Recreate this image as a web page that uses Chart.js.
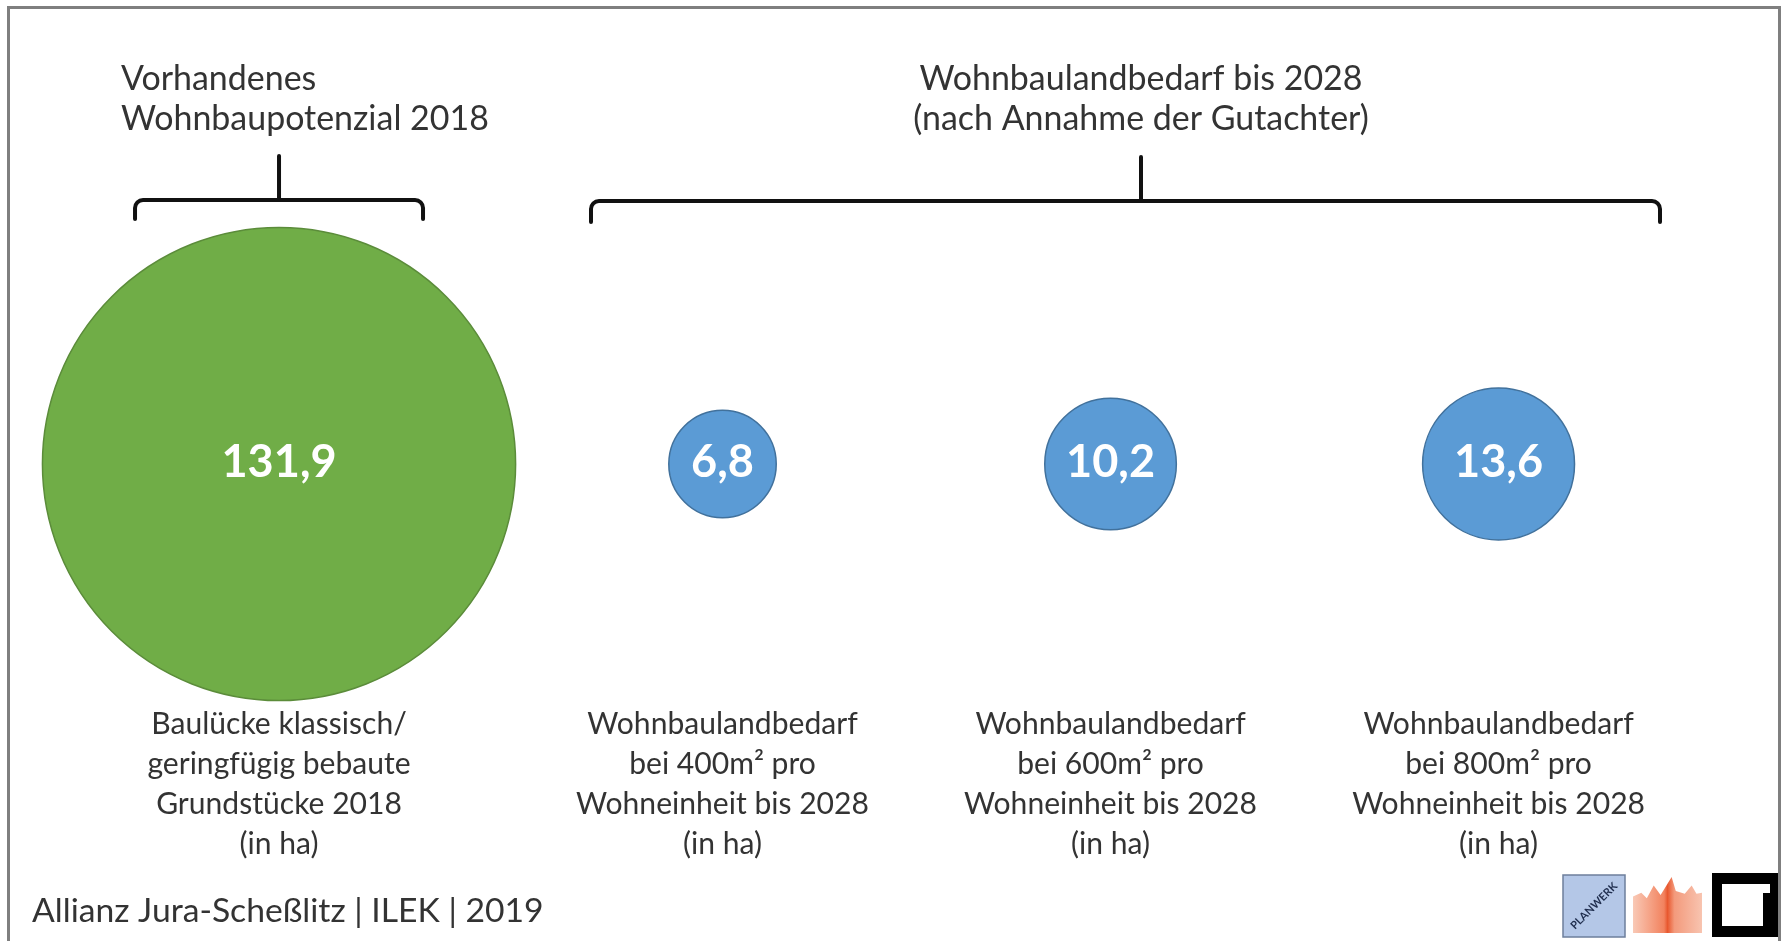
<!DOCTYPE html>
<html lang="de">
<head>
<meta charset="utf-8">
<title>Wohnbaupotenzial 2018 und Wohnbaulandbedarf bis 2028</title>
<script src="https://cdn.jsdelivr.net/npm/chart.js@4.4.1/dist/chart.umd.min.js"></script>
<style>
    html, body { margin: 0; padding: 0; background: #fff; }
    #wrap { width: 1783px; height: 941px; }
</style>
</head>
<body>
<div id="wrap"><canvas id="myChart" width="1783" height="941"></canvas></div>
<script>
// Daten (in ha)
const bestandWerte = [131.9];
const bestandLabels = [
    ['Baulücke klassisch/', 'geringfügig bebaute', 'Grundstücke 2018', '(in ha)']
];
const bedarfWerte = [6.8, 10.2, 13.6];
const bedarfLabels = [
    ['Wohnbaulandbedarf', 'bei 400m² pro', 'Wohneinheit bis 2028', '(in ha)'],
    ['Wohnbaulandbedarf', 'bei 600m² pro', 'Wohneinheit bis 2028', '(in ha)'],
    ['Wohnbaulandbedarf', 'bei 800m² pro', 'Wohneinheit bis 2028', '(in ha)']
];
const bestandTitel = ['Vorhandenes', 'Wohnbaupotenzial 2018'];
const bedarfTitel = ['Wohnbaulandbedarf bis 2028', '(nach Annahme der Gutachter)'];
const quelle = 'Allianz Jura-Scheßlitz | ILEK | 2019';

// Kreisfläche proportional zum Wert
const RADIUS_FAKTOR = 20.6;
const FONT = 'Lato, "Open Sans", sans-serif';
const TEXT_FARBE = '#333333';

// Schriftgröße so wählen, dass ein Text eine bestimmte Breite hat
function passendeGroesse(ctx, text, breite, gewicht) {
    ctx.font = gewicht + ' 100px ' + FONT;
    return 100 * breite / ctx.measureText(text).width;
}

function zeichneKlammer(ctx, x1, x2, xm, yLinie, yEnde, yStiel) {
    const r = 8;
    ctx.beginPath();
    ctx.moveTo(x1, yEnde);
    ctx.lineTo(x1, yLinie + r);
    ctx.arcTo(x1, yLinie, x1 + r, yLinie, r);
    ctx.lineTo(x2 - r, yLinie);
    ctx.arcTo(x2, yLinie, x2, yLinie + r, r);
    ctx.lineTo(x2, yEnde);
    ctx.moveTo(xm, yStiel);
    ctx.lineTo(xm, yLinie);
    ctx.stroke();
}

function zeichneLogos(ctx) {
    // Planwerk
    ctx.fillStyle = '#b4c7e7';
    ctx.fillRect(1563, 875, 62, 62);
    ctx.strokeStyle = '#6d7f9c';
    ctx.lineWidth = 1.5;
    ctx.strokeRect(1563, 875, 62, 62);
    ctx.save();
    ctx.translate(1594, 906);
    ctx.rotate(-Math.PI / 4);
    ctx.fillStyle = '#1f2d4d';
    ctx.font = 'bold 11px ' + FONT;
    ctx.textAlign = 'center';
    ctx.textBaseline = 'middle';
    ctx.fillText('PLANWERK', 0, 0);
    ctx.restore();

    // Skyline
    const x0 = 1633, y0 = 877, w = 69, h = 56;
    const grad = ctx.createLinearGradient(x0, 0, x0 + w, 0);
    grad.addColorStop(0, '#f9c9b6');
    grad.addColorStop(0.45, '#f2825e');
    grad.addColorStop(0.5, '#e8582f');
    grad.addColorStop(0.6, '#f39a7c');
    grad.addColorStop(1, '#f8c4b0');
    ctx.fillStyle = grad;
    ctx.beginPath();
    ctx.moveTo(x0, y0 + h);
    ctx.lineTo(x0, y0 + 0.35 * h);
    ctx.lineTo(x0 + 0.12 * w, y0 + 0.28 * h);
    ctx.lineTo(x0 + 0.2 * w, y0 + 0.38 * h);
    ctx.lineTo(x0 + 0.3 * w, y0 + 0.15 * h);
    ctx.lineTo(x0 + 0.4 * w, y0 + 0.32 * h);
    ctx.lineTo(x0 + 0.5 * w, y0 + 0.12 * h);
    ctx.lineTo(x0 + 0.56 * w, y0);
    ctx.lineTo(x0 + 0.62 * w, y0 + 0.25 * h);
    ctx.lineTo(x0 + 0.75 * w, y0 + 0.3 * h);
    ctx.lineTo(x0 + 0.85 * w, y0 + 0.15 * h);
    ctx.lineTo(x0 + 0.92 * w, y0 + 0.3 * h);
    ctx.lineTo(x0 + w, y0 + 0.28 * h);
    ctx.lineTo(x0 + w, y0 + h);
    ctx.closePath();
    ctx.fill();

    // Rahmen-Logo: dicker Rahmen, rechts breiter, mit Stufe oben rechts
    ctx.fillStyle = '#000';
    ctx.fillRect(1712, 873, 66, 64);
    ctx.fillStyle = '#fff';
    ctx.fillRect(1722, 884, 41, 42);
    ctx.fillRect(1763, 884, 7, 9);
}

const hintergrund = {
    id: 'hintergrund',
    beforeDraw(chart) {
        const ctx = chart.ctx;
        ctx.save();
        ctx.fillStyle = '#fff';
        ctx.fillRect(0, 0, chart.width, chart.height);
        ctx.strokeStyle = '#7f7f7f';
        ctx.lineWidth = 3;
        ctx.beginPath();
        ctx.moveTo(8.5, chart.height + 5);
        ctx.lineTo(8.5, 7.5);
        ctx.lineTo(1779.5, 7.5);
        ctx.lineTo(1779.5, chart.height + 5);
        ctx.stroke();
        ctx.restore();
    }
};

const beschriftung = {
    id: 'beschriftung',
    afterDatasetsDraw(chart) {
        const ctx = chart.ctx;
        ctx.save();
        ctx.textAlign = 'center';
        ctx.textBaseline = 'middle';

        const wertGroesse = passendeGroesse(ctx, '10,2', 89, 'bold');
        const labelGroesse = passendeGroesse(ctx, 'Wohneinheit bis 2028', 293, 'normal');

        const gruppen = [
            { meta: chart.getDatasetMeta(0), werte: bestandWerte, labels: bestandLabels },
            { meta: chart.getDatasetMeta(1), werte: bedarfWerte, labels: bedarfLabels }
        ];
        gruppen.forEach(g => {
            g.meta.data.forEach((el, i) => {
                // Wert im Kreis
                ctx.fillStyle = '#ffffff';
                ctx.font = 'bold ' + wertGroesse + 'px ' + FONT;
                ctx.fillText(g.werte[i].toFixed(1).replace('.', ','), el.x, el.y - 2);
                // Beschriftung unter dem Kreis
                ctx.fillStyle = TEXT_FARBE;
                ctx.font = labelGroesse + 'px ' + FONT;
                g.labels[i].forEach((zeile, z) => {
                    ctx.fillText(zeile, el.x, 724 + z * 40);
                });
            });
        });

        // Gruppentitel
        const titelGroesse = passendeGroesse(ctx, 'Wohnbaupotenzial 2018', 368, 'normal');
        ctx.font = titelGroesse + 'px ' + FONT;
        ctx.fillStyle = TEXT_FARBE;
        ctx.textBaseline = 'alphabetic';
        ctx.textAlign = 'left';
        bestandTitel.forEach((zeile, z) => ctx.fillText(zeile, 121, 90 + z * 40));
        ctx.textAlign = 'center';
        bedarfTitel.forEach((zeile, z) => ctx.fillText(zeile, 1141, 90 + z * 40));

        // Klammern
        ctx.strokeStyle = '#111';
        ctx.lineWidth = 4;
        ctx.lineCap = 'round';
        const xGruen = chart.getDatasetMeta(0).data[0].x;
        zeichneKlammer(ctx, xGruen - 144, xGruen + 144, xGruen, 200, 219, 156);
        zeichneKlammer(ctx, 591, 1660, 1141, 201, 222, 157);

        // Quelle
        ctx.textAlign = 'left';
        ctx.textBaseline = 'middle';
        ctx.fillStyle = TEXT_FARBE;
        ctx.font = passendeGroesse(ctx, quelle, 512, 'normal') + 'px ' + FONT;
        ctx.fillText(quelle, 32, 911);

        zeichneLogos(ctx);
        ctx.restore();
    }
};

const ctx = document.getElementById('myChart').getContext('2d');
const myChart = new Chart(ctx, {
    type: 'bubble',
    data: {
        datasets: [
            {
                label: bestandTitel.join(' '),
                data: bestandWerte.map((v, i) => ({ x: i, y: 0, r: RADIUS_FAKTOR * Math.sqrt(v) })),
                xAxisID: 'xBestand',
                backgroundColor: '#70ad47',
                borderColor: '#5b8c3a',
                borderWidth: 1.5
            },
            {
                label: bedarfTitel.join(' '),
                data: bedarfWerte.map((v, i) => ({ x: i + 1, y: 0, r: RADIUS_FAKTOR * Math.sqrt(v) })),
                xAxisID: 'xBedarf',
                backgroundColor: '#5b9bd5',
                borderColor: '#41719c',
                borderWidth: 1.5
            }
        ]
    },
    options: {
        responsive: false,
        animation: false,
        events: [],
        clip: false,
        layout: { autoPadding: false, padding: { top: 0, bottom: 13, left: 0, right: 0 } },
        scales: {
            xBestand: { type: 'linear', display: false, min: -0.705, max: 3.8 },
            xBedarf: { type: 'linear', display: false, min: -0.862, max: 3.733 },
            y: { type: 'linear', display: false, min: -1, max: 1 }
        },
        plugins: {
            legend: { display: false },
            title: { display: false },
            tooltip: { enabled: false }
        }
    },
    plugins: [hintergrund, beschriftung]
});
</script>
</body>
</html>
